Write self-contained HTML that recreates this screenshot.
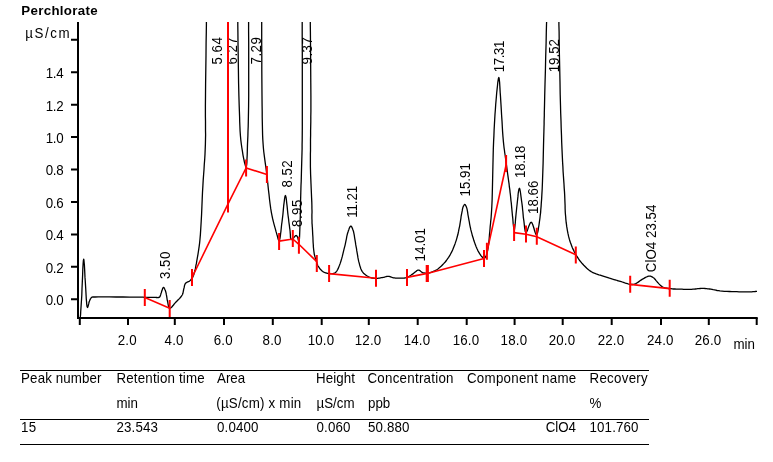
<!DOCTYPE html>
<html><head><meta charset="utf-8"><title>Perchlorate</title>
<style>
html,body{margin:0;padding:0;background:#fff;}
body{width:773px;height:462px;overflow:hidden;}
svg{display:block;}
svg text{font-family:"Liberation Sans",Arial,sans-serif;font-size:14px;fill:#000;}
.c{fill:none;stroke:#000;stroke-width:1.3;stroke-linejoin:round;}
.r{fill:none;stroke:#f00;stroke-width:1.6;}
.a{stroke:#000;stroke-width:2;fill:none;}
</style></head><body>
<svg width="773" height="462" viewBox="0 0 773 462">
<rect width="773" height="462" fill="#fff"/>
<text transform="translate(21.3,14.5) scale(1.0400,1)" style="font-size:12.8px;letter-spacing:0.3px;font-weight:bold;">Perchlorate</text>
<text transform="translate(25.2,38.0) scale(0.9521,1)" style="letter-spacing:1.7px;">µS/cm</text>
<path class="a" d="M78,22V319M77,318H757.7"/>
<text transform="translate(63.3,305.1) scale(0.9521,1)" text-anchor="end" style="letter-spacing:-0.3px;">0.0</text>
<text transform="translate(63.3,272.7) scale(0.9521,1)" text-anchor="end" style="letter-spacing:-0.3px;">0.2</text>
<text transform="translate(63.3,240.3) scale(0.9521,1)" text-anchor="end" style="letter-spacing:-0.3px;">0.4</text>
<text transform="translate(63.3,207.8) scale(0.9521,1)" text-anchor="end" style="letter-spacing:-0.3px;">0.6</text>
<text transform="translate(63.3,175.4) scale(0.9521,1)" text-anchor="end" style="letter-spacing:-0.3px;">0.8</text>
<text transform="translate(63.3,143.0) scale(0.9521,1)" text-anchor="end" style="letter-spacing:-0.3px;">1.0</text>
<text transform="translate(63.3,110.6) scale(0.9521,1)" text-anchor="end" style="letter-spacing:-0.3px;">1.2</text>
<text transform="translate(63.3,78.2) scale(0.9521,1)" text-anchor="end" style="letter-spacing:-0.3px;">1.4</text>
<path class="a" d="M71,299.2H78M71,266.8H78M71,234.4H78M71,201.9H78M71,169.5H78M71,137.1H78M71,104.7H78M71,72.3H78M71,39.8H78"/>
<text transform="translate(127.3,345.0) scale(0.9521,1)" text-anchor="middle" style="letter-spacing:0.2px;">2.0</text>
<text transform="translate(174.1,345.0) scale(0.9521,1)" text-anchor="middle" style="letter-spacing:0.2px;">4.0</text>
<text transform="translate(223.3,345.0) scale(0.9521,1)" text-anchor="middle" style="letter-spacing:0.2px;">6.0</text>
<text transform="translate(272.1,345.0) scale(0.9521,1)" text-anchor="middle" style="letter-spacing:0.2px;">8.0</text>
<text transform="translate(321.0,345.0) scale(0.9521,1)" text-anchor="middle" style="letter-spacing:0.2px;">10.0</text>
<text transform="translate(368.1,345.0) scale(0.9521,1)" text-anchor="middle" style="letter-spacing:0.2px;">12.0</text>
<text transform="translate(417.0,345.0) scale(0.9521,1)" text-anchor="middle" style="letter-spacing:0.2px;">14.0</text>
<text transform="translate(466.0,345.0) scale(0.9521,1)" text-anchor="middle" style="letter-spacing:0.2px;">16.0</text>
<text transform="translate(513.9,345.0) scale(0.9521,1)" text-anchor="middle" style="letter-spacing:0.2px;">18.0</text>
<text transform="translate(562.0,345.0) scale(0.9521,1)" text-anchor="middle" style="letter-spacing:0.2px;">20.0</text>
<text transform="translate(611.0,345.0) scale(0.9521,1)" text-anchor="middle" style="letter-spacing:0.2px;">22.0</text>
<text transform="translate(660.3,345.0) scale(0.9521,1)" text-anchor="middle" style="letter-spacing:0.2px;">24.0</text>
<text transform="translate(708.1,345.0) scale(0.9521,1)" text-anchor="middle" style="letter-spacing:0.2px;">26.0</text>
<path d="M79.8,318V325M128.0,318V325M174.8,318V325M224.0,318V325M272.8,318V325M321.7,318V325M368.8,318V325M417.7,318V325M466.7,318V325M514.6,318V325M562.7,318V325M611.7,318V325M661.0,318V325M708.8,318V325M756.7,318V325" stroke="#000" stroke-width="2" fill="none"/>
<text transform="translate(733.5,349.0) scale(0.9521,1)">min</text>
<text transform="translate(170.1,279.0) rotate(-90) scale(0.9521,1)" style="letter-spacing:0.5px;">3.50</text>
<text transform="translate(222.1,64.5) rotate(-90) scale(0.9521,1)" style="letter-spacing:0.5px;">5.64</text>
<text transform="translate(237.1,64.5) rotate(-90) scale(0.9521,1)" style="letter-spacing:0.5px;">6.27</text>
<text transform="translate(261.1,64.5) rotate(-90) scale(0.9521,1)" style="letter-spacing:0.5px;">7.29</text>
<text transform="translate(292.1,187.6) rotate(-90) scale(0.9521,1)" style="letter-spacing:0.5px;">8.52</text>
<text transform="translate(302.1,227.0) rotate(-90) scale(0.9521,1)" style="letter-spacing:0.5px;">8.95</text>
<text transform="translate(312.1,64.5) rotate(-90) scale(0.9521,1)" style="letter-spacing:0.5px;">9.37</text>
<text transform="translate(357.1,217.8) rotate(-90) scale(0.9521,1)" style="letter-spacing:-0.1px;">11.21</text>
<text transform="translate(425.1,261.4) rotate(-90) scale(0.9521,1)">14.01</text>
<text transform="translate(470.1,196.5) rotate(-90) scale(0.9521,1)">15.91</text>
<text transform="translate(504.1,72.3) rotate(-90) scale(0.9521,1)" style="letter-spacing:-0.4px;">17.31</text>
<text transform="translate(525.1,177.9) rotate(-90) scale(0.9521,1)" style="letter-spacing:-0.3px;">18.18</text>
<text transform="translate(538.1,214.0) rotate(-90) scale(0.9521,1)">18.66</text>
<text transform="translate(559.1,72.3) rotate(-90) scale(0.9521,1)">19.52</text>
<text transform="translate(656.1,272.2) rotate(-90) scale(0.9521,1)" style="letter-spacing:0.03px;">ClO4 23.54</text>
<polyline class="c" points="80.3,318.0 80.3,317.5 80.4,316.2 80.6,314.2 80.7,311.7 80.9,308.9 81.1,305.9 81.3,302.8 81.5,300.0 81.8,295.1 82.0,289.0 82.3,282.3 82.6,275.5 82.8,269.2 83.1,264.0 83.4,260.4 83.7,259.1 83.9,259.9 84.1,262.0 84.4,265.1 84.6,268.9 84.8,273.1 85.0,277.4 85.3,281.5 85.5,285.0 85.7,288.2 85.9,291.8 86.1,295.5 86.3,299.1 86.6,302.4 86.8,305.0 87.1,306.8 87.5,307.5 87.7,307.3 87.9,306.8 88.2,305.9 88.4,305.0 88.7,303.9 88.9,302.8 89.2,301.8 89.5,301.0 89.7,300.4 90.0,299.9 90.2,299.4 90.5,298.8 90.8,298.4 91.1,297.9 91.4,297.6 91.8,297.3 92.1,297.1 92.4,297.0 92.8,297.0 93.1,297.0 93.5,297.0 93.9,297.0 94.4,297.0 95.0,297.0 98.3,296.9 103.3,296.9 109.3,296.9 116.1,297.0 123.0,297.0 129.8,297.1 135.8,297.2 140.6,297.2 142.8,297.2 145.0,297.3 147.0,297.3 148.8,297.3 150.6,297.4 152.2,297.4 153.7,297.4 155.0,297.4 155.7,297.4 156.3,297.5 156.9,297.5 157.5,297.6 158.0,297.6 158.5,297.5 159.0,297.4 159.4,297.2 159.8,296.8 160.1,296.3 160.4,295.6 160.6,294.9 160.8,294.2 161.0,293.4 161.3,292.7 161.5,292.0 161.7,291.3 162.0,290.6 162.2,289.9 162.5,289.1 162.7,288.5 163.0,287.9 163.2,287.5 163.5,287.4 163.7,287.5 164.0,287.7 164.3,288.1 164.5,288.6 164.8,289.2 165.0,289.8 165.3,290.4 165.5,291.0 165.8,292.0 166.1,293.2 166.3,294.4 166.6,295.8 166.8,297.1 167.0,298.5 167.2,299.8 167.5,301.0 167.7,302.0 167.9,303.2 168.1,304.3 168.4,305.5 168.6,306.5 168.9,307.3 169.3,307.9 169.7,308.2 170.3,308.1 171.0,307.7 171.8,307.0 172.6,306.0 173.5,305.0 174.3,303.9 175.2,302.9 176.0,302.0 176.8,301.2 177.7,300.3 178.5,299.5 179.4,298.6 180.2,297.7 181.0,296.8 181.6,295.9 182.2,295.0 182.6,294.2 182.9,293.3 183.1,292.4 183.3,291.4 183.5,290.5 183.6,289.7 183.8,288.8 184.0,288.0 184.2,287.4 184.3,286.8 184.4,286.2 184.5,285.6 184.7,285.0 184.9,284.5 185.1,284.0 185.3,283.6 185.5,283.3 185.8,283.1 186.0,282.9 186.3,282.7 186.6,282.5 186.9,282.3 187.2,282.2 187.5,282.0 187.7,281.9 188.0,281.8 188.2,281.7 188.5,281.6 188.7,281.5 189.0,281.4 189.2,281.3 189.5,281.1 189.9,280.8 190.3,280.4 190.7,280.0 191.1,279.5 191.5,279.0 191.9,278.5 192.3,278.0 192.6,277.4 193.0,276.6 193.3,275.8 193.7,274.9 194.0,273.9 194.2,273.0 194.5,272.0 194.7,271.0 195.0,270.0 195.3,268.9 195.5,267.9 195.7,266.8 195.9,265.7 196.1,264.6 196.4,263.4 196.6,262.1 196.8,260.8 197.2,258.7 197.6,256.4 198.0,254.1 198.4,251.5 198.8,248.9 199.2,246.1 199.6,243.1 199.9,240.0 200.4,234.4 200.8,228.0 201.2,221.2 201.6,214.0 201.9,206.6 202.2,199.3 202.5,192.2 202.9,185.6 203.2,180.1 203.6,174.8 204.0,169.5 204.3,164.3 204.7,159.2 205.0,154.1 205.2,149.1 205.4,144.0 205.5,139.3 205.6,134.7 205.5,130.3 205.5,125.8 205.5,121.3 205.4,116.5 205.4,111.5 205.4,106.0 205.5,95.9 205.6,83.4 205.8,69.5 206.0,55.6 206.1,42.6 206.3,32.0 206.4,24.7 206.4,22.0"/>
<polyline class="c" points="237.8,22.0 237.8,24.7 237.9,32.0 238.0,42.6 238.2,55.6 238.4,69.5 238.6,83.4 238.9,95.9 239.2,106.0 239.4,111.5 239.6,116.8 239.7,121.8 239.9,126.5 240.1,131.1 240.4,135.5 240.8,139.8 241.3,144.0 241.8,147.5 242.4,151.2 243.0,155.1 243.7,158.7 244.4,162.0 245.1,164.6 245.6,166.3 246.1,166.9 246.4,166.2 246.7,164.5 246.9,161.9 247.0,158.6 247.2,155.0 247.3,151.2 247.4,147.4 247.5,144.0 247.7,139.8 247.9,135.5 248.0,131.1 248.2,126.5 248.3,121.8 248.4,116.8 248.5,111.5 248.6,106.0 248.7,95.9 248.7,83.4 248.7,69.5 248.7,55.6 248.7,42.6 248.6,32.0 248.6,24.7 248.6,22.0"/>
<polyline class="c" points="261.7,22.0 261.7,24.7 261.7,32.0 261.7,42.6 261.8,55.6 261.8,69.5 261.9,83.4 262.0,95.9 262.1,106.0 262.2,111.5 262.2,116.6 262.3,121.5 262.4,126.2 262.5,130.7 262.6,135.1 262.8,139.5 263.1,144.0 263.4,148.0 263.8,152.0 264.3,155.8 264.8,159.6 265.3,163.4 265.9,167.3 266.4,171.2 266.9,175.2 267.4,179.8 267.9,184.6 268.4,189.5 269.0,194.4 269.5,199.2 270.1,204.0 270.7,208.4 271.4,212.6 272.0,215.6 272.6,218.5 273.3,221.3 274.0,224.1 274.7,226.7 275.4,229.1 276.0,231.4 276.6,233.4 276.9,234.6 277.3,235.8 277.6,237.0 277.9,238.2 278.2,239.2 278.5,239.9 278.8,240.4 279.1,240.6 279.5,240.0 279.9,238.6 280.3,236.4 280.6,233.8 281.0,230.8 281.3,227.7 281.6,224.7 282.0,222.0 282.4,218.6 282.9,214.5 283.3,210.1 283.7,205.7 284.2,201.8 284.6,198.5 285.0,196.3 285.4,195.5 285.7,196.1 286.1,197.7 286.4,200.0 286.7,202.9 287.1,206.1 287.4,209.3 287.7,212.4 288.0,215.0 288.3,217.1 288.6,219.3 288.8,221.5 289.1,223.6 289.4,225.7 289.6,227.6 289.9,229.5 290.1,231.3 290.2,232.6 290.3,233.9 290.4,235.2 290.4,236.5 290.5,237.6 290.7,238.6 290.9,239.3 291.2,239.6 291.4,239.6 291.7,239.5 292.0,239.4 292.3,239.1 292.6,238.8 292.9,238.6 293.2,238.3 293.5,238.0 293.8,237.7 294.1,237.3 294.5,236.9 294.8,236.5 295.1,236.1 295.4,235.8 295.7,235.6 296.0,235.5 296.2,235.5 296.4,235.6 296.6,235.8 296.8,236.0 297.0,236.2 297.2,236.5 297.3,236.7 297.5,237.0 297.7,237.5 297.9,238.2 298.1,239.0 298.3,239.8 298.5,240.5 298.6,241.1 298.8,241.6 298.9,241.7 299.1,241.2 299.3,239.9 299.5,238.0 299.6,235.6 299.7,233.0 299.8,230.2 299.9,227.5 300.0,225.0 300.1,222.1 300.2,219.2 300.3,216.1 300.3,213.0 300.4,209.8 300.5,206.5 300.5,203.3 300.6,200.0 300.7,196.4 300.8,192.7 300.9,189.0 301.0,185.2 301.2,181.4 301.3,177.6 301.4,173.8 301.5,170.0 301.6,166.4 301.7,163.0 301.8,159.6 301.9,156.2 302.0,152.7 302.1,148.9 302.1,144.7 302.2,140.0 302.3,127.4 302.3,110.4 302.3,91.1 302.3,71.1 302.3,52.4 302.2,36.7 302.2,26.0 302.2,22.0"/>
<polyline class="c" points="310.3,22.0 310.3,24.7 310.4,32.0 310.5,42.6 310.6,55.6 310.7,69.5 310.8,83.4 310.9,95.9 310.9,106.0 310.9,111.5 310.8,116.7 310.8,121.7 310.7,126.4 310.6,130.9 310.6,135.4 310.5,139.7 310.5,144.0 310.5,147.5 310.5,150.7 310.4,153.9 310.4,157.0 310.4,160.2 310.4,163.3 310.4,166.6 310.5,170.0 310.6,174.3 310.8,178.9 311.0,183.7 311.2,188.5 311.4,193.3 311.6,197.9 311.8,202.1 311.9,206.0 311.9,208.3 312.0,210.6 312.0,212.7 311.9,214.7 311.9,216.7 311.9,218.5 312.0,220.3 312.0,222.0 312.0,223.1 312.1,224.1 312.2,225.1 312.2,226.0 312.3,226.9 312.4,227.8 312.4,228.9 312.5,230.0 312.6,232.1 312.7,234.4 312.9,237.0 313.0,239.7 313.1,242.3 313.3,244.8 313.4,247.1 313.6,249.0 313.7,249.9 313.8,250.7 313.9,251.5 314.0,252.2 314.1,252.9 314.2,253.6 314.3,254.3 314.5,255.0 314.7,255.8 314.9,256.6 315.2,257.5 315.5,258.3 315.7,259.1 316.0,259.9 316.3,260.7 316.5,261.4 316.7,261.9 316.8,262.4 316.9,262.9 317.0,263.4 317.1,263.8 317.3,264.3 317.5,264.8 317.7,265.3 318.1,266.1 318.7,266.9 319.3,267.8 319.9,268.7 320.6,269.5 321.4,270.3 322.1,271.0 322.9,271.6 323.6,272.0 324.3,272.4 325.1,272.7 325.9,273.0 326.7,273.2 327.5,273.4 328.3,273.5 329.1,273.6 329.9,273.6 330.7,273.7 331.5,273.7 332.3,273.6 333.1,273.5 333.9,273.3 334.6,273.0 335.3,272.6 336.0,272.0 336.6,271.3 337.1,270.5 337.6,269.6 338.1,268.6 338.6,267.6 339.0,266.4 339.5,265.3 340.2,263.4 340.9,261.2 341.6,258.9 342.3,256.4 342.9,253.9 343.5,251.3 344.1,248.9 344.7,246.6 345.2,244.6 345.6,242.7 346.0,240.7 346.4,238.8 346.7,236.9 347.1,235.1 347.5,233.5 348.0,232.0 348.3,231.0 348.7,230.0 349.0,229.1 349.4,228.1 349.7,227.3 350.1,226.7 350.5,226.3 350.8,226.1 351.1,226.2 351.4,226.4 351.7,226.8 351.9,227.4 352.2,228.0 352.5,228.6 352.7,229.3 353.0,230.0 353.5,231.5 353.9,233.3 354.3,235.4 354.6,237.6 355.0,239.9 355.4,242.2 355.7,244.4 356.1,246.6 356.5,248.7 356.8,250.9 357.2,253.1 357.6,255.3 357.9,257.4 358.3,259.5 358.7,261.4 359.2,263.2 359.5,264.4 359.8,265.6 360.2,266.7 360.5,267.8 360.8,268.8 361.3,269.8 361.7,270.7 362.3,271.6 362.9,272.4 363.6,273.2 364.4,273.9 365.2,274.6 366.0,275.2 366.8,275.8 367.7,276.3 368.6,276.8 369.5,277.2 370.4,277.5 371.3,277.8 372.2,278.0 373.2,278.1 374.1,278.3 375.1,278.4 376.0,278.4 376.9,278.4 377.8,278.3 378.7,278.2 379.6,278.1 380.5,277.9 381.4,277.7 382.3,277.6 383.1,277.4 383.8,277.3 384.5,277.1 385.1,276.9 385.8,276.7 386.4,276.5 387.0,276.4 387.7,276.3 388.3,276.3 388.9,276.4 389.6,276.5 390.2,276.7 390.8,277.0 391.5,277.2 392.1,277.4 392.8,277.6 393.5,277.8 394.5,277.9 395.5,278.1 396.5,278.1 397.6,278.2 398.7,278.2 399.8,278.2 400.8,278.2 401.8,278.2 402.5,278.2 403.2,278.1 403.8,278.1 404.5,278.0 405.1,277.9 405.7,277.8 406.4,277.6 407.0,277.4 407.8,277.1 408.6,276.7 409.3,276.2 410.1,275.7 410.9,275.2 411.7,274.6 412.5,274.1 413.2,273.6 413.9,273.1 414.5,272.6 415.2,272.0 415.9,271.4 416.5,270.9 417.1,270.5 417.8,270.2 418.4,270.1 418.9,270.2 419.5,270.4 420.0,270.7 420.5,271.1 421.0,271.6 421.5,272.0 422.1,272.3 422.6,272.6 423.1,272.8 423.7,272.9 424.3,273.0 424.8,273.1 425.4,273.2 426.0,273.2 426.6,273.2 427.2,273.2 427.9,273.1 428.6,273.0 429.3,272.8 430.1,272.6 430.8,272.4 431.5,272.1 432.3,271.8 433.0,271.5 433.8,271.2 434.5,270.8 435.2,270.5 436.0,270.1 436.7,269.7 437.5,269.2 438.2,268.7 439.0,268.1 440.2,267.1 441.4,266.0 442.6,264.7 443.9,263.4 445.2,262.0 446.4,260.5 447.5,258.9 448.6,257.4 449.7,255.7 450.7,253.8 451.7,251.9 452.6,249.9 453.4,247.9 454.2,245.9 455.0,243.9 455.7,241.9 456.3,240.1 456.8,238.3 457.3,236.5 457.8,234.8 458.2,233.0 458.6,231.2 458.9,229.4 459.3,227.6 459.7,225.8 460.0,223.9 460.3,222.0 460.6,220.1 460.9,218.3 461.1,216.5 461.4,214.8 461.7,213.3 461.9,212.3 462.1,211.3 462.3,210.4 462.4,209.5 462.6,208.6 462.8,207.8 463.0,207.1 463.3,206.5 463.5,206.1 463.6,205.8 463.8,205.5 464.0,205.1 464.2,204.9 464.4,204.7 464.6,204.5 464.8,204.5 465.0,204.6 465.2,204.7 465.4,205.0 465.6,205.3 465.8,205.7 466.0,206.1 466.2,206.5 466.4,207.0 466.8,208.1 467.1,209.4 467.4,210.9 467.7,212.6 467.9,214.3 468.2,216.0 468.5,217.7 468.8,219.3 469.1,220.8 469.4,222.3 469.6,223.8 469.9,225.3 470.2,226.8 470.5,228.2 470.8,229.7 471.2,231.2 471.6,232.7 472.0,234.2 472.4,235.8 472.9,237.3 473.4,238.8 473.8,240.3 474.3,241.7 474.8,243.1 475.2,244.2 475.6,245.3 476.0,246.4 476.5,247.5 476.9,248.5 477.4,249.5 477.8,250.5 478.3,251.4 478.7,252.2 479.2,252.9 479.6,253.7 480.1,254.4 480.5,255.0 481.0,255.7 481.4,256.2 481.9,256.7 482.2,257.0 482.5,257.3 482.8,257.6 483.1,257.8 483.5,258.1 483.7,258.2 484.0,258.3 484.3,258.3 484.5,258.2 484.8,258.0 485.0,257.8 485.2,257.5 485.4,257.2 485.6,256.8 485.8,256.4 486.0,256.0 486.3,255.3 486.6,254.6 486.8,253.8 487.0,253.0 487.3,252.1 487.5,251.1 487.7,250.1 487.9,249.0 488.2,247.0 488.5,244.8 488.8,242.3 489.1,239.7 489.3,237.0 489.5,234.3 489.8,231.6 490.0,229.0 490.2,226.4 490.5,223.9 490.7,221.3 491.0,218.8 491.2,216.2 491.4,213.4 491.6,210.3 491.8,207.0 492.1,200.4 492.3,192.8 492.5,184.4 492.7,175.6 492.9,166.6 493.1,157.7 493.3,149.3 493.6,141.6 493.9,135.9 494.1,130.2 494.4,124.8 494.7,119.4 495.0,114.3 495.4,109.3 495.7,104.5 496.1,100.0 496.4,96.5 496.7,92.8 497.1,89.1 497.5,85.5 497.8,82.3 498.2,79.8 498.5,78.1 498.8,77.5 499.1,78.1 499.3,79.8 499.6,82.3 499.8,85.5 500.0,89.1 500.2,92.8 500.5,96.6 500.7,100.0 501.0,104.7 501.3,109.8 501.6,115.3 502.0,120.9 502.3,126.5 502.6,131.9 503.0,137.0 503.4,141.6 503.7,144.5 504.0,147.3 504.4,150.0 504.7,152.5 505.1,155.0 505.4,157.4 505.8,159.8 506.1,162.3 506.4,164.6 506.7,166.8 507.0,169.1 507.3,171.3 507.6,173.5 507.9,175.6 508.2,177.8 508.5,180.0 508.8,182.1 509.1,184.2 509.3,186.3 509.6,188.4 509.9,190.4 510.1,192.5 510.4,194.6 510.6,196.7 510.8,198.9 511.0,201.0 511.3,203.2 511.5,205.4 511.7,207.6 511.9,209.7 512.1,211.9 512.3,214.0 512.5,216.2 512.8,218.7 513.0,221.4 513.2,223.9 513.5,226.2 513.7,228.1 514.0,229.3 514.2,229.8 514.5,229.3 514.7,227.8 515.0,225.5 515.3,222.8 515.5,219.7 515.8,216.6 516.1,213.5 516.4,210.8 516.7,207.8 517.1,204.3 517.5,200.5 517.9,196.9 518.2,193.5 518.6,190.8 519.0,189.0 519.4,188.3 519.7,188.7 520.0,189.8 520.3,191.5 520.6,193.5 520.9,195.8 521.2,198.1 521.5,200.4 521.8,202.5 522.1,204.7 522.4,207.1 522.6,209.5 522.9,212.0 523.1,214.4 523.3,216.8 523.6,219.1 523.9,221.2 524.1,222.9 524.3,224.8 524.5,226.6 524.7,228.4 525.0,230.0 525.2,231.3 525.6,232.2 526.0,232.6 526.5,232.2 527.1,231.0 527.7,229.4 528.4,227.4 529.1,225.5 529.9,223.8 530.5,222.6 531.2,222.2 531.9,222.8 532.6,224.2 533.3,226.2 534.0,228.5 534.6,230.8 535.3,232.8 535.9,234.2 536.4,234.7 536.9,234.3 537.4,233.3 537.8,231.8 538.2,229.9 538.5,227.7 538.9,225.5 539.2,223.3 539.5,221.2 539.9,218.5 540.2,215.7 540.6,212.7 540.8,209.6 541.1,206.4 541.3,203.0 541.6,199.4 541.8,195.6 542.2,188.8 542.5,180.9 542.8,172.3 543.1,163.4 543.3,154.5 543.5,145.9 543.7,138.1 543.9,131.2 544.0,127.5 544.1,124.3 544.1,121.4 544.2,118.6 544.3,115.8 544.3,112.8 544.4,109.4 544.5,105.6 544.7,96.3 545.0,84.2 545.4,70.4 545.7,56.4 546.1,43.2 546.3,32.3 546.5,24.8 546.6,22.0"/>
<polyline class="c" points="558.9,22.0 558.9,24.6 559.1,31.5 559.2,41.8 559.4,54.4 559.7,68.1 560.0,81.9 560.2,94.8 560.5,105.6 560.7,113.3 561.0,120.9 561.2,128.3 561.5,135.6 561.7,142.6 562.0,149.4 562.3,156.0 562.6,162.3 562.9,166.9 563.1,171.5 563.4,175.8 563.7,180.1 564.0,184.2 564.2,188.1 564.5,191.9 564.7,195.6 564.8,198.3 564.9,200.9 565.0,203.4 565.1,205.8 565.1,208.1 565.2,210.5 565.3,212.7 565.5,215.0 565.7,217.0 565.8,218.9 566.0,220.8 566.2,222.7 566.5,224.6 566.7,226.4 567.0,228.2 567.3,230.0 567.6,231.6 567.9,233.2 568.3,234.8 568.6,236.4 569.0,237.9 569.4,239.4 569.9,241.0 570.4,242.5 571.0,244.1 571.6,245.7 572.2,247.3 572.9,248.9 573.7,250.4 574.4,252.0 575.2,253.5 576.0,254.9 576.8,256.2 577.6,257.4 578.4,258.7 579.2,259.8 580.1,261.0 581.0,262.1 581.9,263.2 582.9,264.3 583.8,265.3 584.8,266.3 585.8,267.3 586.8,268.3 587.9,269.2 588.9,270.0 590.1,270.9 591.2,271.6 592.4,272.3 593.6,272.9 594.9,273.4 596.2,273.9 597.5,274.3 598.9,274.8 600.2,275.2 601.6,275.7 603.1,276.2 604.7,276.7 606.3,277.2 607.9,277.7 609.5,278.2 611.0,278.6 612.6,279.1 614.0,279.5 615.1,279.8 616.2,280.2 617.2,280.5 618.3,280.8 619.3,281.1 620.3,281.4 621.3,281.7 622.3,282.0 623.3,282.3 624.3,282.7 625.4,283.1 626.4,283.4 627.4,283.7 628.4,284.0 629.3,284.3 630.2,284.4 630.8,284.5 631.4,284.5 632.0,284.5 632.5,284.5 633.1,284.4 633.6,284.3 634.2,284.2 634.8,284.0 635.8,283.6 636.8,283.0 637.8,282.4 638.9,281.6 640.0,280.8 641.0,280.1 642.1,279.4 643.1,278.8 643.9,278.4 644.7,277.9 645.6,277.4 646.4,277.0 647.2,276.7 647.9,276.4 648.7,276.2 649.4,276.1 650.0,276.1 650.5,276.2 651.0,276.4 651.5,276.6 652.0,276.8 652.5,277.1 653.0,277.5 653.5,277.8 654.2,278.3 654.8,279.0 655.5,279.8 656.1,280.6 656.8,281.4 657.4,282.2 658.1,282.9 658.7,283.6 659.2,284.1 659.7,284.6 660.2,285.1 660.7,285.6 661.2,286.0 661.7,286.4 662.3,286.8 662.9,287.1 663.6,287.4 664.4,287.7 665.2,287.9 666.1,288.1 666.9,288.2 667.8,288.3 668.8,288.5 669.7,288.6 670.9,288.7 672.2,288.9 673.5,289.0 674.9,289.0 676.3,289.1 677.7,289.1 679.1,289.2 680.5,289.2 682.0,289.2 683.6,289.3 685.2,289.3 686.8,289.3 688.4,289.3 690.0,289.3 691.5,289.3 693.0,289.2 694.2,289.1 695.4,289.0 696.6,288.9 697.8,288.7 699.0,288.6 700.1,288.5 701.2,288.4 702.3,288.4 703.2,288.4 704.2,288.4 705.0,288.5 705.9,288.6 706.8,288.7 707.7,288.8 708.6,288.9 709.6,289.0 710.8,289.2 712.0,289.4 713.2,289.7 714.5,289.9 715.8,290.2 717.1,290.5 718.5,290.7 720.0,290.9 722.1,291.1 724.4,291.3 726.9,291.4 729.4,291.5 731.9,291.6 734.4,291.7 736.8,291.7 739.0,291.8 740.8,291.8 742.6,291.9 744.3,291.9 746.0,291.9 747.7,291.9 749.2,291.9 750.7,291.9 752.0,291.8 752.8,291.7 753.7,291.7 754.5,291.6 755.3,291.5 756.0,291.4 756.5,291.4 756.9,291.3 757.0,291.3"/>
<polyline class="r" points="144.8,297.5 169.7,308.2"/>
<polyline class="r" points="192.0,277.5 227.8,204.3 246.1,167.9 266.9,174.5"/>
<polyline class="r" points="279.1,241.1 292.8,239.0 298.9,244.3 316.5,261.4"/>
<polyline class="r" points="329.1,273.6 376.0,278.2"/>
<polyline class="r" points="407.0,277.4 427.2,273.4 484.0,258.6"/>
<polyline class="r" points="486.9,252.3 506.1,165.0"/>
<polyline class="r" points="514.1,232.6 526.0,234.3 536.8,236.8 575.8,254.8"/>
<polyline class="r" points="630.2,284.4 669.7,288.6"/>
<path d="M228,22V212.6" stroke="#f00" stroke-width="2" fill="none"/>
<path class="r" style="stroke-width:2" d="M144.8,289.0V306.0M169.7,300.0V317.0M192.0,269.0V286.0M246.1,159.4V176.4M266.9,166.0V183.0M279.1,232.9V249.9M292.8,230.1V247.1M298.9,236.8V253.8M316.8,255.0V272.0M329.1,264.9V281.9M376.0,269.8V286.8M407.0,268.9V285.9M426.7,264.9V281.9M427.9,264.9V281.9M484.0,250.1V267.1M486.9,242.8V259.8M506.1,154.9V171.9M514.1,223.9V240.9M526.0,225.5V242.5M536.8,227.7V244.7M575.8,246.6V263.6M630.2,275.7V292.7M669.7,279.7V296.7"/>
<path d="M20,370.5H649M20,419.5H649M20,444.5H649" stroke="#000" stroke-width="1" fill="none"/>
<text transform="translate(21.1,383.0) scale(0.9521,1)" style="letter-spacing:0.13px;">Peak number</text>
<text transform="translate(21.1,432.0) scale(0.9521,1)" style="letter-spacing:0.15px;">15</text>
<text transform="translate(116.5,383.0) scale(0.9521,1)" style="letter-spacing:0.18px;">Retention time</text>
<text transform="translate(116.5,408.0) scale(0.9521,1)">min</text>
<text transform="translate(116.5,432.0) scale(0.9521,1)" style="letter-spacing:0.15px;">23.543</text>
<text transform="translate(217.0,383.0) scale(0.9521,1)">Area</text>
<text transform="translate(216.3,408.0) scale(0.9521,1)" style="letter-spacing:0.22px;">(µS/cm) x min</text>
<text transform="translate(217.0,432.0) scale(0.9521,1)" style="letter-spacing:0.15px;">0.0400</text>
<text transform="translate(316.0,383.0) scale(0.9521,1)" style="letter-spacing:0.1px;">Height</text>
<text transform="translate(316.5,408.0) scale(0.9521,1)">µS/cm</text>
<text transform="translate(316.5,432.0) scale(0.9521,1)" style="letter-spacing:0.15px;">0.060</text>
<text transform="translate(367.5,383.0) scale(0.9521,1)" style="letter-spacing:0.27px;">Concentration</text>
<text transform="translate(368.0,408.0) scale(0.9521,1)">ppb</text>
<text transform="translate(368.0,432.0) scale(0.9521,1)" style="letter-spacing:0.15px;">50.880</text>
<text transform="translate(467.0,383.0) scale(0.9521,1)" style="letter-spacing:0.27px;">Component name</text>
<text transform="translate(589.5,383.0) scale(0.9521,1)" style="letter-spacing:0.3px;">Recovery</text>
<text transform="translate(589.5,408.0) scale(0.9521,1)">%</text>
<text transform="translate(589.5,432.0) scale(0.9521,1)" style="letter-spacing:0.15px;">101.760</text>
<text transform="translate(576.0,432.0) scale(0.9521,1)" text-anchor="end">ClO4</text>
</svg>
</body></html>
